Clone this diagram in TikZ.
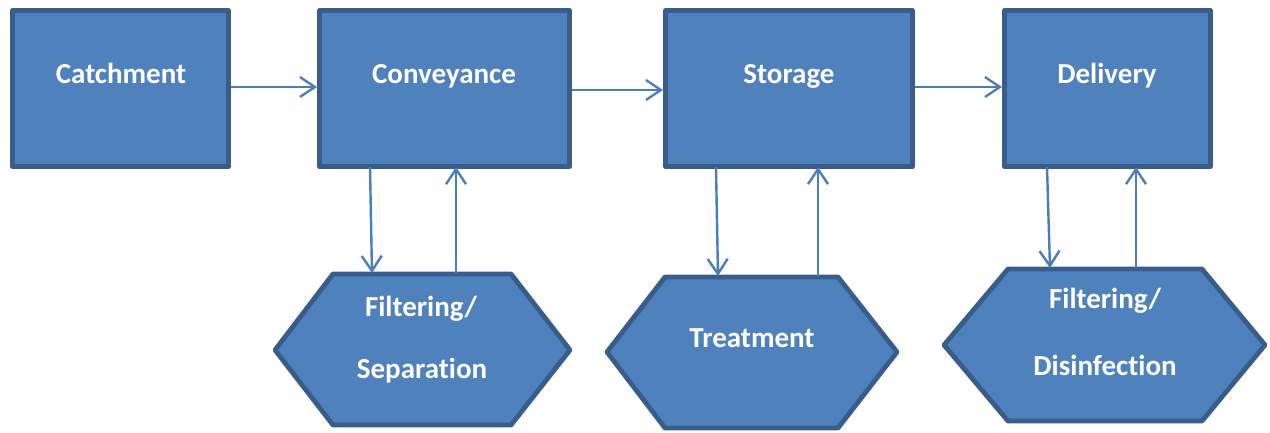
\documentclass[tikz,border=0pt]{standalone}
\usepackage{fontspec}
\setmainfont[Ligatures=NoCommon]{Carlito}
\usetikzlibrary{arrows.meta}
\definecolor{boxfill}{HTML}{4F81BD}
\definecolor{boxline}{HTML}{385D8A}
\definecolor{arrcol}{HTML}{4A7EBB}
\begin{document}
\begin{tikzpicture}[x=1pt,y=-1pt,
  box/.style={draw=boxline,fill=boxfill,line width=4.8pt,line join=round},
  lbl/.style={text=white,font=\fontsize{29}{32}\selectfont\bfseries,anchor=base,inner sep=0pt},
  arr/.style={draw=arrcol,line width=2.4pt,-{Straight Barb[length=15pt,width=20pt,line width=2.4pt]}}]
\useasboundingbox (0,0) rectangle (1270,432);
% boxes
\node[box,minimum width=216pt,minimum height=156pt,inner sep=0pt] (catch) at (120.5,88.5) {};
\node[box,minimum width=250pt,minimum height=156pt,inner sep=0pt] (conv) at (444.5,88.5) {};
\node[box,minimum width=247pt,minimum height=156pt,inner sep=0pt] (stor) at (789,88.5) {};
\node[box,minimum width=206pt,minimum height=156pt,inner sep=0pt] (deli) at (1107.5,88.5) {};
\node[lbl] (tcatch) at (121,83) {Catchment};
\node[lbl] (tconv) at (444,83) {Conveyance};
\node[lbl] (tstor) at (789,83) {Storage};
\node[lbl] (tdeli) at (1107,83) {Delivery};
% hexagons
\draw[box] (275,350) -- (333,274) -- (511,274) -- (570,350) -- (511,425) -- (333,425) -- cycle;
\draw[box] (607,352) -- (665,277) -- (838,277) -- (897,352) -- (838,428) -- (665,428) -- cycle;
\draw[box] (944,345) -- (1008,269) -- (1202,269) -- (1265,345) -- (1202,421) -- (1008,421) -- cycle;
\node[lbl] (tfs1) at (421,316) {Filtering/};
\node[lbl] (tfs2) at (422,378) {Separation};
\node[lbl] (ttr) at (752,347) {Treatment};
\node[lbl] (tfd1) at (1105,308) {Filtering/};
\node[lbl] (tfd2) at (1105,375) {Disinfection};
% connector ends
\coordinate (c1a) at (370,167);
\coordinate (h1a) at (372,273);
\coordinate (h1b) at (456,273);
\coordinate (c1b) at (456,167);
\coordinate (s1a) at (716,167);
\coordinate (h2a) at (718,276);
\coordinate (h2b) at (818,276);
\coordinate (s1b) at (818,167);
\coordinate (d1a) at (1047,167);
\coordinate (h3a) at (1050,268);
\coordinate (h3b) at (1136,268);
\coordinate (d1b) at (1136,167);
% horizontal connectors
\draw[arr] ([yshift=1.5pt]catch.east) -- ([yshift=1.5pt]conv.west);
\draw[arr] ([yshift=-1.5pt]conv.east) -- ([yshift=-1.5pt]stor.west);
\draw[arr] ([yshift=1.5pt]stor.east) -- ([yshift=1.5pt]deli.west);
% vertical connectors
\draw[arr] (c1a) -- (h1a);
\draw[arr] (h1b) -- (c1b);
\draw[arr] (s1a) -- (h2a);
\draw[arr] (h2b) -- (s1b);
\draw[arr] (d1a) -- (h3a);
\draw[arr] (h3b) -- (d1b);
\end{tikzpicture}
\end{document}
